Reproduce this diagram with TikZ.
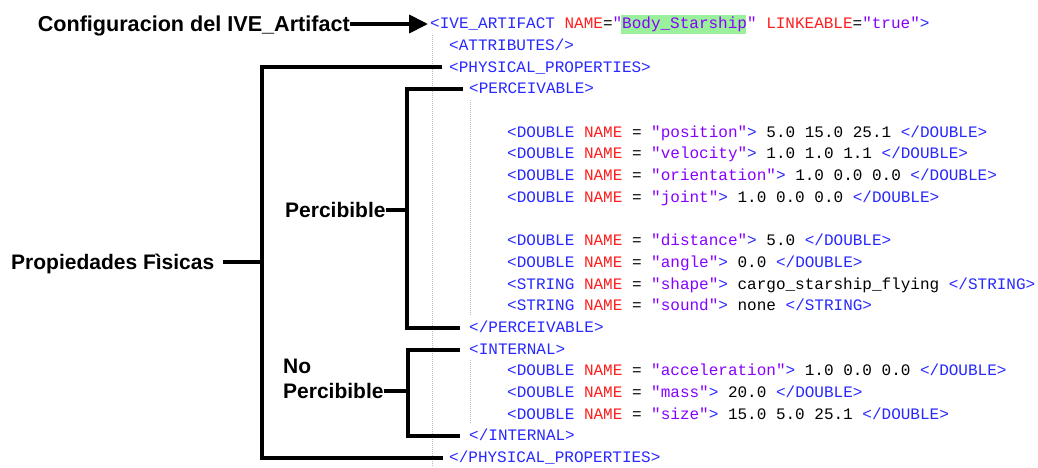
\documentclass[tikz,border=0pt]{standalone}
\usepackage{fontspec}
\setmonofont{Liberation Mono}
\newfontfamily\lblfont{Liberation Sans}
\usetikzlibrary{arrows.meta}

\definecolor{tagblue}{RGB}{40,40,255}
\definecolor{attred}{RGB}{255,30,30}
\definecolor{valpurple}{RGB}{135,0,255}
\definecolor{hilite}{RGB}{155,240,155}
\definecolor{guidegray}{RGB}{185,185,185}

% XML syntax colouring
\newcommand\xtag[1]{\textcolor{tagblue}{#1}}
\newcommand\xatt[1]{\textcolor{attred}{#1}}
\newcommand\xval[1]{\textcolor{valpurple}{#1}}

\tikzset{
  code/.style={anchor=west, inner sep=0pt, text height=12.2pt, text depth=3pt,
               font=\ttfamily\fontsize{16pt}{18pt}\selectfont},
  lbl/.style={inner sep=0pt, text height=15pt, text depth=0pt,
              font=\lblfont\bfseries\fontsize{21pt}{25pt}\selectfont},
  brk/.style={line width=4pt, line join=miter},
  guide/.style={draw=guidegray, line width=1pt, dash pattern=on 1pt off 1pt},
}

\begin{document}
\begin{tikzpicture}[x=1pt, y=-1pt]
\useasboundingbox (0,0) rectangle (1038,467);
\fill[white] (0,0) rectangle (1038,467);

% indentation guides
\draw[guide] (432,35) -- (432,467);
\draw[guide] (470,100) -- (470,316);
\draw[guide] (470,360) -- (470,424);

% search highlight
\fill[hilite] (621,15) rectangle (746,34);

% XML listing
\node[code] (l0)  at (430,{24+21.7*0})  {\xtag{<IVE\_ARTIFACT} \xatt{NAME}=\xval{"Body\_Starship"} \xatt{LINKEABLE}=\xval{"true"}\xtag{>}};
\node[code] (l1)  at (449,{24+21.7*1})  {\xtag{<ATTRIBUTES/>}};
\node[code] (l2)  at (449,{24+21.7*2})  {\xtag{<PHYSICAL\_PROPERTIES>}};
\node[code] (l3)  at (469,{24+21.7*3})  {\xtag{<PERCEIVABLE>}};
\node[code] (l5)  at (507,{24+21.7*5})  {\xtag{<DOUBLE} \xatt{NAME} = \xval{"position"}\xtag{>} 5.0 15.0 25.1 \xtag{</DOUBLE>}};
\node[code] (l6)  at (507,{24+21.7*6})  {\xtag{<DOUBLE} \xatt{NAME} = \xval{"velocity"}\xtag{>} 1.0 1.0 1.1 \xtag{</DOUBLE>}};
\node[code] (l7)  at (507,{24+21.7*7})  {\xtag{<DOUBLE} \xatt{NAME} = \xval{"orientation"}\xtag{>} 1.0 0.0 0.0 \xtag{</DOUBLE>}};
\node[code] (l8)  at (507,{24+21.7*8})  {\xtag{<DOUBLE} \xatt{NAME} = \xval{"joint"}\xtag{>} 1.0 0.0 0.0 \xtag{</DOUBLE>}};
\node[code] (l10) at (507,{24+21.7*10}) {\xtag{<DOUBLE} \xatt{NAME} = \xval{"distance"}\xtag{>} 5.0 \xtag{</DOUBLE>}};
\node[code] (l11) at (507,{24+21.7*11}) {\xtag{<DOUBLE} \xatt{NAME} = \xval{"angle"}\xtag{>} 0.0 \xtag{</DOUBLE>}};
\node[code] (l12) at (507,{24+21.7*12}) {\xtag{<STRING} \xatt{NAME} = \xval{"shape"}\xtag{>} cargo\_starship\_flying \xtag{</STRING>}};
\node[code] (l13) at (507,{24+21.7*13}) {\xtag{<STRING} \xatt{NAME} = \xval{"sound"}\xtag{>} none \xtag{</STRING>}};
\node[code] (l14) at (469,{24+21.7*14}) {\xtag{</PERCEIVABLE>}};
\node[code] (l15) at (469,{24+21.7*15}) {\xtag{<INTERNAL>}};
\node[code] (l16) at (507,{24+21.7*16}) {\xtag{<DOUBLE} \xatt{NAME} = \xval{"acceleration"}\xtag{>} 1.0 0.0 0.0 \xtag{</DOUBLE>}};
\node[code] (l17) at (507,{24+21.7*17}) {\xtag{<DOUBLE} \xatt{NAME} = \xval{"mass"}\xtag{>} 20.0 \xtag{</DOUBLE>}};
\node[code] (l18) at (507,{24+21.7*18}) {\xtag{<DOUBLE} \xatt{NAME} = \xval{"size"}\xtag{>} 15.0 5.0 25.1 \xtag{</DOUBLE>}};
\node[code] (l19) at (469,{24+21.7*19}) {\xtag{</INTERNAL>}};
\node[code] (l20) at (449,{24+21.7*20}) {\xtag{</PHYSICAL\_PROPERTIES>}};

% labels
\node[lbl, anchor=east, font=\lblfont\bfseries\fontsize{21.6pt}{25pt}\selectfont] (conf) at (350,24) {Configuracion del IVE\_Artifact};
\node[lbl, anchor=west] (prop) at (11,262)  {Propiedades Fìsicas};
\node[lbl, anchor=west] (perc) at (285,210) {Percibible};
\node[lbl, anchor=west] (np1)  at (283,366) {No};
\node[lbl, anchor=west] (np2)  at (283,391) {Percibible};

% bracket spines
\coordinate (vprop) at (262,0);
\coordinate (vperc) at (407,0);
\coordinate (vnp)   at (408,0);

% arrow to the root element
\draw[line width=4pt, -{Triangle[length=19pt,width=18pt]}, shorten >=2pt] (conf.east) -- (l0.west);

% physical properties bracket
\draw[brk] ([xshift=-7pt]l2.west) -- (vprop |- l2.west) -- (vprop |- l20.west) -- ([xshift=-6pt]l20.west);
\draw[brk] ([xshift=9pt]prop.east) -- (vprop |- prop.east);

% perceivable bracket
\draw[brk] ([xshift=-6pt]l3.west) -- (vperc |- l3.west) -- (vperc |- l14.west) -- ([xshift=-9pt]l14.west);
\draw[brk] (perc.east) -- (vperc |- perc.east);

% internal bracket
\draw[brk] ([xshift=-9pt]l15.west) -- (vnp |- l15.west) -- (vnp |- l19.west) -- ([xshift=-9pt]l19.west);
\draw[brk] (np2.east) -- (vnp |- np2.east);
\end{tikzpicture}
\end{document}
